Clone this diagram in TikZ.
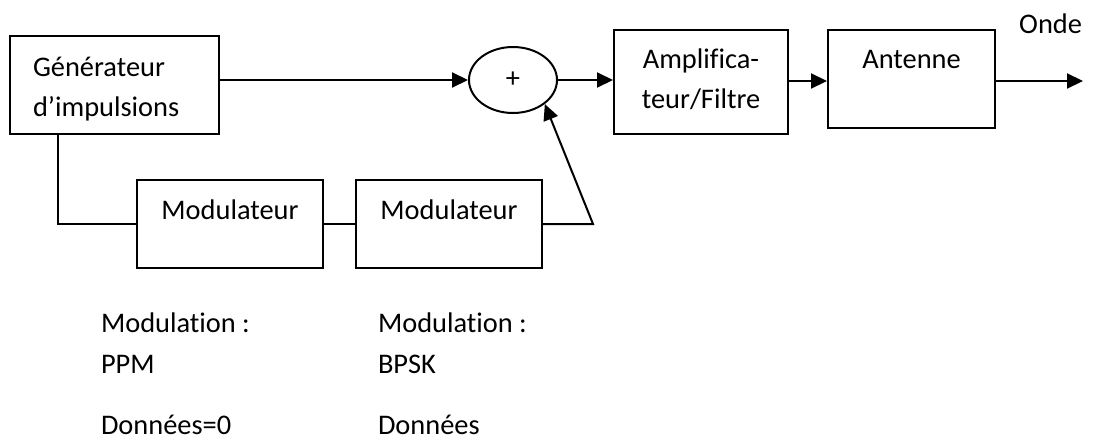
\documentclass[tikz,border=0pt]{standalone}
\usepackage{fontspec}
\setmainfont{Carlito}[Ligatures=NoCommon]
\usetikzlibrary{arrows.meta,shapes.geometric}

\begin{document}
\begin{tikzpicture}[x=0.5pt,y=-0.5pt,>={Triangle[length=8pt,width=7.5pt]},
  line width=1pt,font=\fontsize{14.2pt}{20pt}\selectfont,
  box/.style={draw,anchor=north west,inner xsep=0pt,inner ysep=0pt,align=center,text height=10pt},
  txt/.style={anchor=base west,inner sep=0pt}]
  \useasboundingbox (0,0) rectangle (1096,445);

  % blocks
  \node[box,align=left,inner xsep=11.5pt,text width=81.5pt,minimum width=104.5pt,minimum height=49pt,text depth=19pt]
    (gen) at (9,35) {Générateur\\d’impulsions};
  \node[box,text width=93pt,minimum height=44pt,text depth=15pt] (mod1) at (136,179) {Modulateur};
  \node[box,text width=93pt,minimum height=44pt,text depth=15pt] (mod2) at (355,179) {Modulateur};
  \node[draw,ellipse,minimum width=44pt,minimum height=33pt,inner sep=0pt] (sum) at (513,80) {+};
  \node[box,text width=87pt,minimum height=52pt,text depth=24pt] (ampl) at (613,29) {Amplifica-\\teur/Filtre};
  \node[box,text width=83.5pt,minimum height=49pt,text depth=21pt] (ant) at (827,29) {Antenne};
  \node[txt,anchor=base east] (onde) at (1083,33) {Onde};

  \coordinate (tap) at (58,133);
  \coordinate (corner) at (593,224);
  \coordinate (out) at (1083,81);

  % connections
  \draw[->] (gen.east |- sum) -- (sum.west);
  \draw[->] (sum.east) -- (sum.east -| ampl.west);
  \draw[->] (ampl.east |- out) -- (out -| ant.west);
  \draw[->] (out -| ant.east) -- (out);
  \draw (tap) |- (mod1.west |- corner);
  \draw (mod1.east |- corner) -- (mod2.west |- corner);
  \draw[->] (mod2.east |- corner) -- (corner) -- (sum.south east);

  % notes
  \node[txt] (mtype1) at (100,332) {Modulation :};
  \node[txt] (ppm) at (100,373) {PPM};
  \node[txt] (data1) at (100,434) {Données=0};
  \node[txt] (mtype2) at (377,332) {Modulation :};
  \node[txt] (bpsk) at (377,373) {BPSK};
  \node[txt] (data2) at (377,434) {Données};
\end{tikzpicture}
\end{document}
